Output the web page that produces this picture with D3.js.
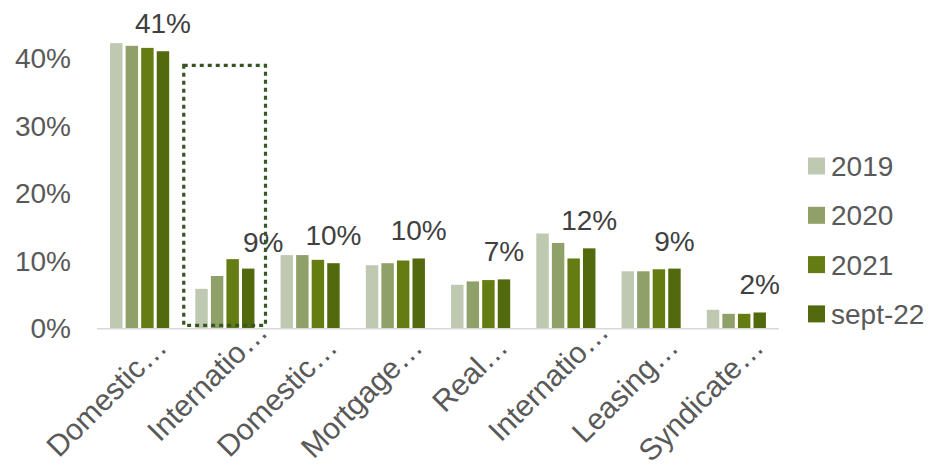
<!DOCTYPE html>
<html>
<head>
<meta charset="utf-8">
<style>
body { margin: 0; background: #fff; }
svg text { font-family: "Liberation Sans", Arial, sans-serif; }
.tick-label { fill: #595959; font-size: 28px; }
.cat-label { fill: #595959; font-size: 30px; }
.data-label { fill: #404040; font-size: 28px; }
.legend text { fill: #595959; font-size: 28px; }
</style>
</head>
<body>
<svg width="929" height="468"></svg>
<script src="https://cdn.jsdelivr.net/npm/d3@7"></script>
<script>
var categories = ["Domestic\u2026", "Internatio\u2026", "Domestic\u2026", "Mortgage\u2026",
                  "Real\u2026", "Internatio\u2026", "Leasing\u2026", "Syndicate\u2026"];
var series = ["2019", "2020", "2021", "sept-22"];

// share of portfolio, %
var v2019   = [42.2, 5.8, 10.8, 9.3, 6.4, 14.0, 8.4, 2.7];
var v2020   = [41.8, 7.7, 10.8, 9.6, 6.9, 12.6, 8.4, 2.1];
var v2021   = [41.5, 10.2, 10.1, 10.0, 7.1, 10.3, 8.7, 2.1];
var vSept22 = [41.0, 8.8, 9.6, 10.3, 7.2, 11.8, 8.8, 2.3];
var yTicks = [0, 10, 20, 30, 40];

// highlighted category and the span of its dotted box (%)
var highlightIndex = 1;
var highlightSpan = [0.4, 38.9];

var colors = ["#bfc8b0", "#8fa069", "#647c12", "#52690d"];

var values = [v2019, v2020, v2021, vSept22];

var svg = d3.select("svg");

var x0 = d3.scaleBand()
    .domain(d3.range(categories.length))
    .range([97, 779])
    .paddingInner(0.27)
    .paddingOuter(0.135);

var x1 = d3.scaleBand()
    .domain(series)
    .range([0, x0.bandwidth()])
    .paddingInner(0.2)
    .paddingOuter(0.1);

var y = d3.scaleLinear()
    .domain([0, 40])
    .range([328, 58]);

// y tick labels (no gridlines)
svg.append("g").selectAll("text")
    .data(yTicks)
    .enter().append("text")
      .attr("class", "tick-label")
      .attr("x", 71)
      .attr("y", function(d) { return y(d); })
      .attr("dy", "0.36em")
      .attr("text-anchor", "end")
      .text(function(d) { return d + "%"; });

// bars
var groups = svg.append("g").selectAll("g")
    .data(categories)
    .enter().append("g")
      .attr("transform", function(d, i) { return "translate(" + x0(i) + ",0)"; });

groups.selectAll("rect")
    .data(function(d, i) {
      return series.map(function(s, j) { return { s: s, j: j, v: values[j][i] }; });
    })
    .enter().append("rect")
      .attr("x", function(d) { return x1(d.s); })
      .attr("width", x1.bandwidth())
      .attr("y", function(d) { return y(d.v); })
      .attr("height", function(d) { return y(0) - y(d.v); })
      .attr("fill", function(d) { return colors[d.j]; });

// category axis line
svg.append("line")
    .attr("x1", 97).attr("x2", 779)
    .attr("y1", y(0) + 0.8).attr("y2", y(0) + 0.8)
    .attr("stroke", "#d9d9d9")
    .attr("stroke-width", 1.6);

// data labels above the last series
var fmt = d3.format(".0f");
svg.append("g").selectAll("text")
    .data(vSept22)
    .enter().append("text")
      .attr("class", "data-label")
      .attr("x", function(d, i) {
        return x0(i) + x1("sept-22") + x1.bandwidth() / 2 + (i === highlightIndex ? 15 : 0);
      })
      .attr("y", function(d, i) { return y(d) - (i === highlightIndex ? 16.5 : 18); })
      .attr("text-anchor", "middle")
      .text(function(d) { return fmt(d) + "%"; });

// dotted highlight box
var step = x0.step();
var boxLeft = x0.range()[0] + highlightIndex * step + 1.5;
svg.append("rect")
    .attr("x", boxLeft)
    .attr("y", y(highlightSpan[1]))
    .attr("width", step - 3.5)
    .attr("height", y(highlightSpan[0]) - y(highlightSpan[1]))
    .attr("fill", "none")
    .attr("stroke", "#375623")
    .attr("stroke-width", 3.2)
    .attr("stroke-dasharray", "4,4");

// rotated category labels
svg.append("g").selectAll("text")
    .data(categories)
    .enter().append("text")
      .attr("class", "cat-label")
      .attr("text-anchor", "end")
      .attr("transform", function(d, i) {
        var cx = x0(i) + x0.bandwidth() / 2;
        return "translate(" + (cx + 29) + "," + (y(0) + 21) + ") rotate(-45)";
      })
      .attr("x", function(d) { return d.indexOf("Internatio") === 0 ? 22 : 0; })
      .text(function(d) { return d; });

// legend
var legend = svg.append("g").attr("class", "legend")
    .selectAll("g")
    .data(series)
    .enter().append("g")
      .attr("transform", function(d, i) { return "translate(808," + (166 + i * 49.3) + ")"; });

legend.append("rect")
    .attr("x", 0)
    .attr("y", -8.5)
    .attr("width", 17)
    .attr("height", 17)
    .attr("fill", function(d, i) { return colors[i]; });

legend.append("text")
    .attr("x", 23)
    .attr("dy", "0.36em")
    .text(function(d) { return d; });
</script>
</body>
</html>
